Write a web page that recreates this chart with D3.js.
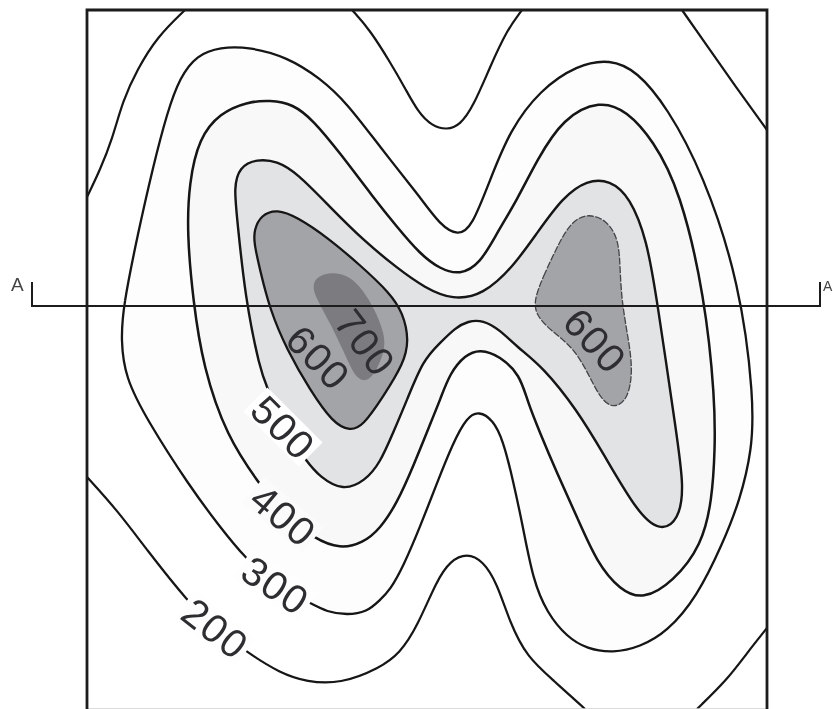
<!DOCTYPE html>
<html><head><meta charset="utf-8">
<script src="https://cdn.jsdelivr.net/npm/d3@7"></script>
<style>html,body{margin:0;padding:0;background:#fff;overflow:hidden}svg{display:block}text{font-family:"Liberation Sans",Arial,sans-serif}</style>
</head><body>
<script>
// Contours in map units (east, south of the top-left corner of the map)
const level200West=[[0,187],[13,160],[25,130],[36,90],[50,60],[70,27],[98,0]];
const level200North=[[265,0],[283,20],[303,52],[318,78],[331,102],[345,116],[360,120],[373,115],[386,97],[403,57],[420,20],[435,0]];
const level200NorthEast=[[595,0],[616,30],[646,73],[680,120]];
const level200South=[[0,467],[30,500],[60,540],[101,592],[128,618],[161,643],[193,663],[220,672],[253,674],[293,658],[313,643],[330,617],[350,570],[363,551],[380,543],[396,551],[410,573],[423,613],[440,647],[466,670],[498,699]];
const level200SouthEast=[[610,699],[640,670],[660,643],[680,618]];
const level300=[[34,330],[36,297],[51,223],[66,157],[80,103],[93,67],[110,45],[133,37],[163,37],[200,47],[233,68],[260,93],[293,137],[333,187],[353,215],[371,226],[385,217],[403,170],[423,120],[453,80],[490,55],[523,49],[550,61],[580,97],[616,163],[653,273],[667,390],[665,440],[653,490],[636,533],[610,587],[580,622],[553,637],[526,643],[500,639],[480,627],[460,603],[446,570],[436,517],[426,470],[416,430],[406,410],[392,401],[380,407],[366,433],[350,473],[333,517],[316,557],[303,580],[293,590],[280,602],[260,605],[240,602],[223,593],[188,575],[158,548],[133,517],[103,477],[60,410],[38,367]];
const level400=[[106,290],[100,223],[102,173],[112,128],[133,103],[160,92],[183,90],[206,94],[226,110],[253,143],[286,187],[310,217],[333,244],[353,259],[373,265],[393,254],[410,223],[430,190],[450,150],[476,108],[513,90],[540,101],[566,130],[593,180],[618,287],[628,390],[628,440],[625,490],[615,535],[586,572],[556,590],[533,580],[510,553],[490,507],[470,463],[453,423],[440,390],[433,365],[413,346],[393,339],[378,345],[363,363],[353,390],[346,407],[326,457],[310,493],[293,519],[276,533],[253,539],[228,529],[196,505],[171,472],[140,427],[116,357]];
const level500=[[158,287],[150,207],[147,178],[152,157],[170,149],[190,151],[210,163],[243,197],[276,230],[310,258],[338,278],[366,290],[396,285],[426,257],[450,223],[476,187],[500,170],[523,170],[543,187],[560,230],[570,290],[590,427],[597,477],[592,510],[573,522],[550,502],[516,443],[490,400],[456,357],[430,337],[413,320],[396,310],[381,311],[368,318],[353,333],[336,350],[320,390],[306,423],[293,453],[278,471],[256,481],[233,467],[220,452],[196,417],[180,377],[173,360]];
const level600West=[[167,220],[174,205],[190,199],[210,207],[240,227],[273,255],[303,283],[316,303],[322,330],[317,353],[296,387],[276,416],[263,421],[246,413],[223,380],[200,340],[183,300],[173,260],[167,233]];
const level600East=[[447,290],[456,267],[470,237],[483,213],[500,203],[520,210],[532,230],[533,260],[535,293],[541,327],[546,360],[541,390],[526,399],[513,388],[501,363],[486,337],[463,320],[449,305]];
const level700=[[225,275],[231,266],[245,262],[263,266],[276,280],[288,300],[296,320],[299,337],[290,360],[282,370],[274,371],[266,363],[256,340],[243,313],[229,288]];

const section=[[-55,272],[-55,296],[733,296],[733,272]];
const sectionNames=["A","A"];
const sectionNameAt=[[-76,281],[736,281]];

const labelTexts=["500","400","300","200","600","700","600"];
const labelAt=[[196,417],[196,505],[188,575],[128,618],[231,347],[278,332],[508,330]];
const labelAngles=[45,40,34,38,46,53,48];

const W=833,H=709;
const x=d3.scaleLinear().domain([0,680]).range([87,767]);
const y=d3.scaleLinear().domain([0,699]).range([10,709]);

const svg=d3.select("body").append("svg").attr("width",W).attr("height",H).attr("viewBox",[0,0,W,H]);
const defs=svg.append("defs");
defs.append("filter").attr("id","soft").attr("x","-5%").attr("y","-5%").attr("width","110%").attr("height","110%")
  .append("feGaussianBlur").attr("stdDeviation",0.55);
const g=svg.append("g").attr("filter","url(#soft)");

const closed=d3.line().x(d=>x(d[0])).y(d=>y(d[1])).curve(d3.curveBasisClosed);
const open=d3.line().x(d=>x(d[0])).y(d=>y(d[1])).curve(d3.curveBasis);
const straight=d3.line().x(d=>x(d[0])).y(d=>y(d[1]));

g.selectAll("path.band").data([
  {p:level300,fill:"#fdfdfd",stroke:"#141414",w:2.3},
  {p:level400,fill:"#f8f8f9",stroke:"#141414",w:2.5},
  {p:level500,fill:"#e2e3e5",stroke:"#141414",w:2.4},
  {p:level600West,fill:"#a3a4a7",stroke:"#141414",w:2.3},
  {p:level600East,fill:"#a3a4a7",stroke:"#444446",w:1.3,dash:"7 1.5"},
  {p:level700,fill:"#7b7c80",stroke:"none",w:0}
]).join("path").attr("class","band")
  .attr("d",d=>closed(d.p)).attr("fill",d=>d.fill).attr("stroke",d=>d.stroke)
  .attr("stroke-width",d=>d.w).attr("stroke-dasharray",d=>d.dash||null);

g.selectAll("path.edge").data([level200West,level200North,level200NorthEast,level200South,level200SouthEast])
  .join("path").attr("class","edge").attr("d",open).attr("fill","none").attr("stroke","#141414").attr("stroke-width",2.2);

const labels=g.selectAll("g.lab").data(labelTexts.map((t,i)=>({t,at:labelAt[i],a:labelAngles[i],i})))
  .join("g").attr("class","lab")
  .attr("transform",d=>`translate(${x(d.at[0])},${y(d.at[1])}) rotate(${d.a})`);
labels.filter(d=>d.i<4).append("rect").attr("x",-39).attr("y",-17).attr("width",78).attr("height",34)
  .attr("fill",d=>d.i===0?"#fff":d.i===1?"#fbfbfb":"#fefefe");
labels.append("text").attr("text-anchor","middle").attr("dy","0.36em")
  .attr("font-size",40).attr("fill","#2e2e30")
  .attr("textLength",70).attr("lengthAdjust","spacing").text(d=>d.t);

// map frame
g.append("path").attr("d",straight([[0,699],[680,699]])).attr("fill","none").attr("stroke","#cfcfcf").attr("stroke-width",1.5);
g.append("path").attr("d",straight([[0,699],[0,0],[680,0],[680,699]])).attr("fill","none").attr("stroke","#1c1c1c").attr("stroke-width",2.8);

// section line
g.append("path").attr("d",straight(section)).attr("fill","none").attr("stroke","#1c1c1c").attr("stroke-width",2);
g.selectAll("text.sec").data(sectionNames.map((t,i)=>({t,at:sectionNameAt[i],i}))).join("text").attr("class","sec")
  .attr("x",d=>x(d.at[0])).attr("y",d=>y(d.at[1])).attr("font-size",d=>d.i===0?19:14).attr("fill","#444").text(d=>d.t);
</script>
</body></html>
